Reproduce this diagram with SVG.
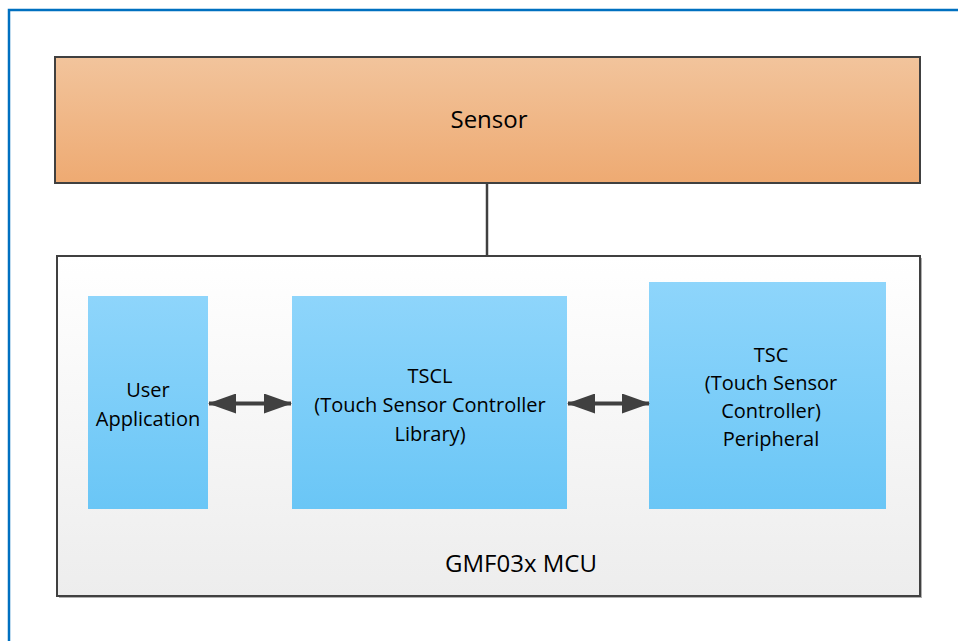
<svg xmlns="http://www.w3.org/2000/svg" width="958" height="641" viewBox="0 0 958 641">
<defs>
<linearGradient id="gSensor" x1="0" y1="0" x2="0" y2="1"><stop offset="0" stop-color="#F2C49C"/><stop offset="1" stop-color="#EEAA72"/></linearGradient>
<linearGradient id="gBlue" x1="0" y1="0" x2="0" y2="1"><stop offset="0" stop-color="#8ED5FB"/><stop offset="1" stop-color="#6AC6F6"/></linearGradient>
<linearGradient id="gMcu" x1="0" y1="0" x2="0" y2="1"><stop offset="0" stop-color="#FFFFFF"/><stop offset="1" stop-color="#EDEDED"/></linearGradient>
<marker id="ah" viewBox="0 0 28 20" refX="27" refY="10" markerWidth="28" markerHeight="20" markerUnits="userSpaceOnUse" orient="auto-start-reverse"><path d="M0,0 L28,10 L0,20 Z" fill="#404040"/></marker>
</defs>
<style>
text{font-family:"Open Sans","Liberation Sans",sans-serif;fill:#000;text-anchor:middle}
.lbl{font-size:20px}
.big{font-size:24px}
.blue{fill:url(#gBlue)}
.conn{stroke:#404040;fill:none}
</style>
<rect x="0" y="0" width="958" height="641" fill="#fff"/>
<rect x="9" y="10" width="960" height="640" fill="none" stroke="#0070C0" stroke-width="2.5"/>
<g id="sensor">
<rect x="55" y="57" width="865" height="126" fill="url(#gSensor)" stroke="#404040" stroke-width="2"/>
<text class="big" x="489" y="128">Sensor</text>
</g>
<g id="mcu">
<rect x="59" y="258" width="863" height="340" fill="#b0b0b0"/>
<rect x="57" y="256" width="863" height="340" fill="url(#gMcu)" stroke="#404040" stroke-width="2"/>
<text class="big" x="521" y="572">GMF03x MCU</text>
</g>
<g id="user-app">
<rect class="blue" x="88" y="296" width="120" height="213"/>
<text class="lbl" x="148" y="397">User</text>
<text class="lbl" x="148" y="426">Application</text>
</g>
<g id="tscl">
<rect class="blue" x="292" y="296" width="275" height="213"/>
<text class="lbl" x="430" y="383">TSCL</text>
<text class="lbl" x="430" y="412">(Touch Sensor Controller</text>
<text class="lbl" x="430" y="441">Library)</text>
</g>
<g id="tsc">
<rect class="blue" x="649" y="282" width="237" height="227"/>
<text class="lbl" x="771" y="362">TSC</text>
<text class="lbl" x="771" y="390">(Touch Sensor</text>
<text class="lbl" x="771" y="418">Controller)</text>
<text class="lbl" x="771" y="446">Peripheral</text>
</g>
<g id="connectors">
<line class="conn" x1="487" y1="184" x2="487" y2="256" stroke-width="2.5"/>
<line class="conn" x1="209" y1="403.5" x2="291" y2="403.5" stroke-width="4" marker-start="url(#ah)" marker-end="url(#ah)"/>
<line class="conn" x1="568" y1="403.5" x2="649" y2="403.5" stroke-width="4" marker-start="url(#ah)" marker-end="url(#ah)"/>
</g>
</svg>
